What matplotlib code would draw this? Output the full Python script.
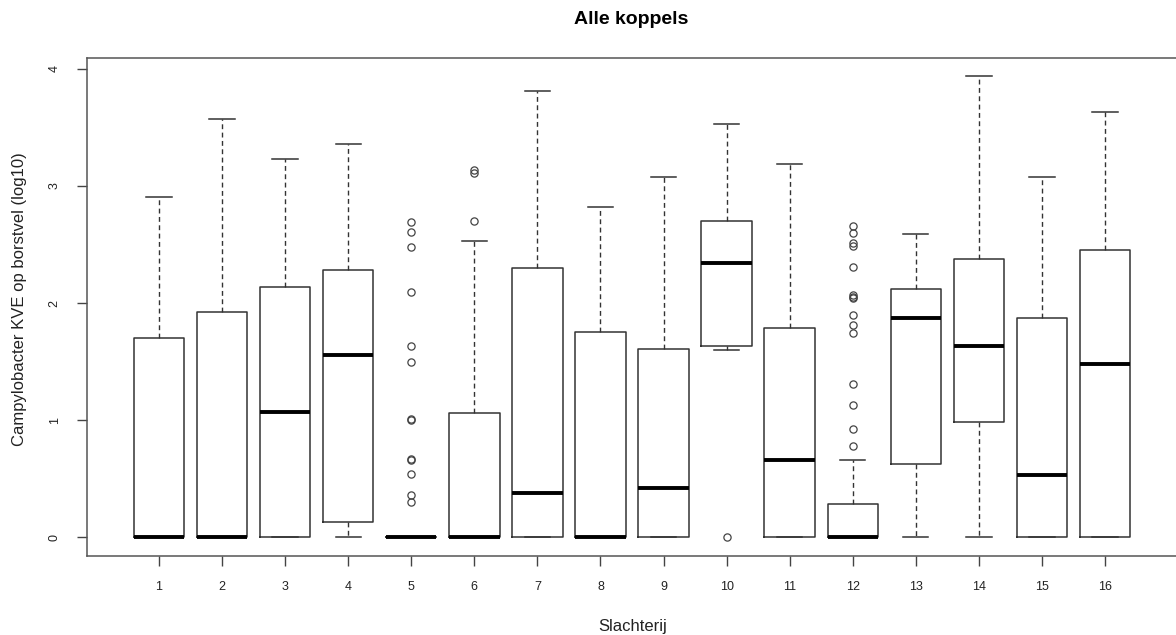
import matplotlib
matplotlib.use("Agg")
import matplotlib.pyplot as plt

plt.rcParams['font.family'] = ['Liberation Sans', 'DejaVu Sans']

categories = [str(i) for i in range(1, 17)]
q1 = [0, 0, 0, 0.13, 0, 0, 0, 0, 0, 1.63, 0, 0, 0.62, 0.98, 0, 0]
medians = [0, 0, 1.07, 1.56, 0, 0, 0.38, 0, 0.42, 2.34, 0.66, 0, 1.87, 1.63, 0.53, 1.48]
q3 = [1.70, 1.92, 2.14, 2.28, 0, 1.06, 2.30, 1.75, 1.61, 2.70, 1.79, 0.28, 2.12, 2.38, 1.87, 2.45]
whisker_low = [0, 0, 0, 0, 0, 0, 0, 0, 0, 1.60, 0, 0, 0, 0, 0, 0]
whisker_high = [2.91, 3.57, 3.23, 3.36, 0, 2.53, 3.81, 2.82, 3.08, 3.53, 3.19, 0.66, 2.59, 3.94, 3.08, 3.63]
outliers = [
    [], [], [], [],
    [2.69, 2.61, 2.48, 2.09, 1.63, 1.50, 1.01, 1.00, 0.67, 0.66, 0.54, 0.36, 0.30],
    [3.14, 3.11, 2.70],
    [], [], [],
    [0.0],
    [],
    [2.66, 2.60, 2.51, 2.49, 2.31, 2.07, 2.05, 2.04, 1.90, 1.81, 1.74, 1.31, 1.13, 0.92, 0.78],
    [], [], [], [],
]

title = "Alle koppels"
xlabel = "Slachterij"
ylabel = "Campylobacter KVE op borstvel (log10)"
yticks = [0, 1, 2, 3, 4]

W, H = 1176, 635
fig = plt.figure(figsize=(W / 100, H / 100), dpi=100)
ax = fig.add_axes([87 / W, 1 - 556 / H, 1090 / W, (556 - 58) / H])

stats = []
for i in range(16):
    stats.append(dict(med=medians[i], q1=q1[i], q3=q3[i], whislo=whisker_low[i],
                      whishi=whisker_high[i], fliers=outliers[i], label=categories[i]))

ec = '#333333'
ax.bxp(stats, positions=list(range(1, 17)), widths=0.8, capwidths=0.4,
       boxprops=dict(color=ec, linewidth=1.1),
       medianprops=dict(color='black', linewidth=2.8, solid_capstyle='butt'),
       whiskerprops=dict(color=ec, linewidth=1.0, linestyle=(0, (3.5, 2.5))),
       capprops=dict(color=ec, linewidth=1.1),
       flierprops=dict(marker='o', markerfacecolor='none', markeredgecolor='#444444',
                       markersize=5.2, markeredgewidth=0.9, linestyle='none'))

ax.set_xlim(-0.14, 17.14)
ax.set_ylim(-0.162, 4.094)
ax.set_yticks(yticks)
ax.set_yticklabels([str(v) for v in yticks], rotation=90, va='center', fontsize=9, color='#222222')
ax.set_xticks(list(range(1, 17)))
ax.set_xticklabels(categories, fontsize=9, color='#222222')
ax.tick_params(axis='both', direction='out', length=7, width=1.0, color='#444444')
ax.tick_params(axis='x', pad=11)
ax.tick_params(axis='y', pad=12)
for s in ax.spines.values():
    s.set_color('#555555')
    s.set_linewidth(1.1)

fig.text(631 / W, 1 - 20 / H, title, ha='center', va='center', fontsize=14, fontweight='bold')
fig.text(633 / W, 1 - 626 / H, xlabel, ha='center', va='center', fontsize=12, color='#222222')
fig.text(20 / W, 1 - 299 / H, ylabel, ha='center', va='center', rotation=90, fontsize=12, color='#222222')

fig.savefig('out.png', dpi=100)
